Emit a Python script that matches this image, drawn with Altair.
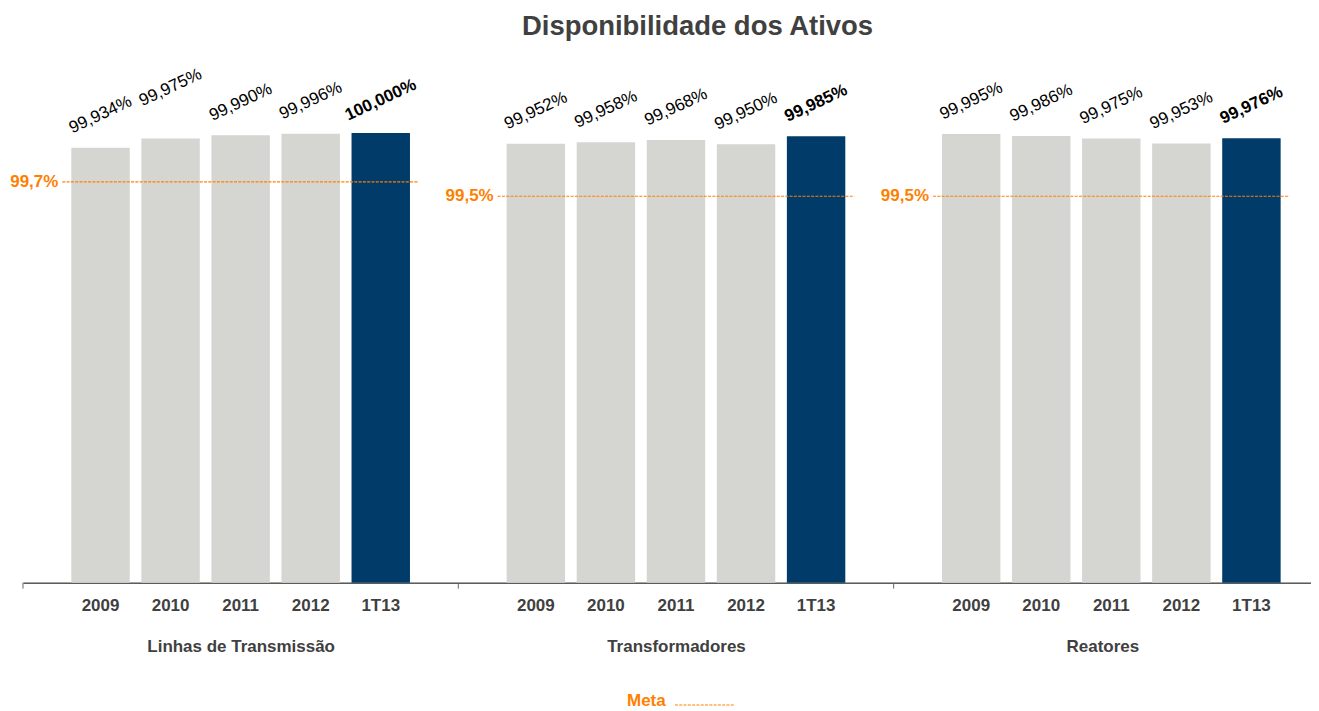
import math
import altair as alt
import pandas as pd

# ---------------- data ----------------
categories = ["2009", "2010", "2011", "2012", "1T13"]
groups = ["Linhas de Transmissão", "Transformadores", "Reatores"]
linhas = [99.934, 99.975, 99.990, 99.996, 100.000]
transformadores = [99.952, 99.958, 99.968, 99.950, 99.985]
reatores = [99.995, 99.986, 99.975, 99.953, 99.976]
metas = [99.7, 99.5, 99.5]
series = [linhas, transformadores, reatores]

# ---------------- style ----------------
GRAY = "#D5D5D1"
NAVY = "#003B69"
ORANGE = "#FF8000"
DARK = "#404040"
FONT = "Liberation Sans"

H = 518
Y_DOMAIN = [98, 100.3]
META_MAX = [100.194, 100.008, 100.008]  # secondary (meta) axis tops
W = 436
W_LAST = 418
PI = 0.166
PO = 0.69
N = len(categories)
STEP = W / (N - PI + 2 * PO)
ANGLE = -25
LABEL_OFF = 33
RAISED = {0: ("2010", 51)}
DASH = [3, 1.3]


def pct(v, d):
    return f"{v:.{d}f}".replace(".", ",") + "%"


def band_scale(width):
    inner = STEP * (N - PI)
    outer_total = width - inner
    po = outer_total / (2 * STEP)
    align = (PO * STEP) / outer_total
    return alt.Scale(domain=categories, paddingInner=PI, paddingOuter=po, align=align)


def offsets(d):
    a = math.radians(ANGLE)
    return -d * math.sin(a), -d * math.cos(a)


def panel(i):
    vals = series[i]
    df = pd.DataFrame({"cat": categories, "value": vals,
                       "label": [pct(v, 3) for v in vals]})
    mdf = pd.DataFrame({"cat": [categories[0]], "end": [categories[-1]],
                        "meta": [metas[i]], "mlabel": [pct(metas[i], 1)],
                        "key": ["Meta"]})
    width = W if i < 2 else W_LAST
    xs = band_scale(width)
    axis = alt.Axis(title=groups[i], labelAngle=0, labelFont=FONT, labelFontSize=17,
                    labelFontWeight="bold", labelColor=DARK, labelPadding=15,
                    ticks=False, tickSize=0, domainColor="black", domainWidth=1,
                    titleFont=FONT, titleFontSize=17, titleFontWeight="bold",
                    titleColor=DARK, titlePadding=25, grid=False)

    def X(**kw):
        return alt.X("cat:N", scale=xs, sort=categories, axis=axis, **kw)

    ybar = alt.Y("value:Q", scale=alt.Scale(domain=Y_DOMAIN, nice=False, zero=False), axis=None)
    ymeta = alt.Y("meta:Q", scale=alt.Scale(domain=[Y_DOMAIN[0], META_MAX[i]], nice=False, zero=False), axis=None)

    bars = alt.Chart(df).mark_bar().encode(
        x=X(), y=ybar, y2=alt.datum(Y_DOMAIN[0]),
        color=alt.when(alt.datum.cat == categories[-1]).then(alt.value(NAVY)).otherwise(alt.value(GRAY)),
    )

    raised_cat, raised_off = RAISED.get(i, ("", LABEL_OFF))
    dx, dy = offsets(LABEL_OFF)
    rdx, rdy = offsets(raised_off)
    tb = alt.Chart(df).encode(x=X(), y=ybar, text="label:N")
    txt_kw = dict(angle=360 + ANGLE, align="center", baseline="middle", font=FONT,
                  fontSize=17, color="black")
    normal = tb.transform_filter(
        f"datum.cat != '{categories[-1]}' && datum.cat != '{raised_cat}'"
    ).mark_text(dx=dx, dy=dy, **txt_kw)
    bold = tb.transform_filter(f"datum.cat == '{categories[-1]}'").mark_text(
        dx=dx, dy=dy, fontWeight="bold", **txt_kw)
    layers = [bars, normal, bold]
    if raised_cat:
        layers.append(tb.transform_filter(f"datum.cat == '{raised_cat}'").mark_text(
            dx=rdx, dy=rdy, **txt_kw))

    rule_enc = dict(x=X(bandPosition=0), x2=alt.X2("end:N", bandPosition=1), y=ymeta)
    if i == 0:
        rule_enc["stroke"] = alt.Stroke(
            "key:N", scale=alt.Scale(domain=["Meta"], range=[ORANGE]),
            legend=alt.Legend(orient="none", legendX=605, legendY=632, title="Meta",
                              titleOrient="left", titleAnchor="middle", titleBaseline="middle",
                              titleColor=ORANGE, titleFont=FONT,
                              titleFontSize=17, titleFontWeight="bold", titlePadding=8,
                              symbolType="M-1,0H7", symbolSize=225, symbolStrokeWidth=1.1,
                              symbolDash=DASH, symbolStrokeColor=ORANGE,
                              labelExpr="''", labelFontSize=1, labelOffset=0, padding=0))
        rule = alt.Chart(mdf).mark_rule(strokeDash=DASH, strokeWidth=1.1, xOffset=-9, x2Offset=9)
    else:
        rule = alt.Chart(mdf).mark_rule(strokeDash=DASH, strokeWidth=1.1, xOffset=-9,
                                        x2Offset=9, color=ORANGE)
    rule = rule.encode(**rule_enc)

    mtext = alt.Chart(mdf).mark_text(align="right", baseline="middle", dx=-13, font=FONT,
                                     fontSize=17, fontWeight="bold", color=ORANGE).encode(
        x=X(bandPosition=0), y=ymeta, text="mlabel:N")

    tick = alt.Chart(mdf).mark_rule(color="#666666").encode(
        x=alt.value(0), y=alt.value(H), y2=alt.value(H + 6))

    layers += [rule, mtext, tick]
    return alt.layer(*layers).resolve_scale(y="independent").properties(width=width, height=H)


chart = (
    alt.hconcat(*[panel(i) for i in range(3)], spacing=0, bounds="flush")
    .properties(
        title=alt.TitleParams(text="Disponibilidade dos Ativos", font=FONT, fontSize=27.5,
                              fontWeight="bold", color=DARK, anchor="middle", dx=37, offset=25),
        padding={"left": 2, "right": 0, "top": 4, "bottom": 0},
    )
    .configure(font=FONT)
    .configure_view(strokeWidth=0, stroke="transparent")
)

chart.save("out.html", embed_options={"renderer": "svg", "actions": False})
